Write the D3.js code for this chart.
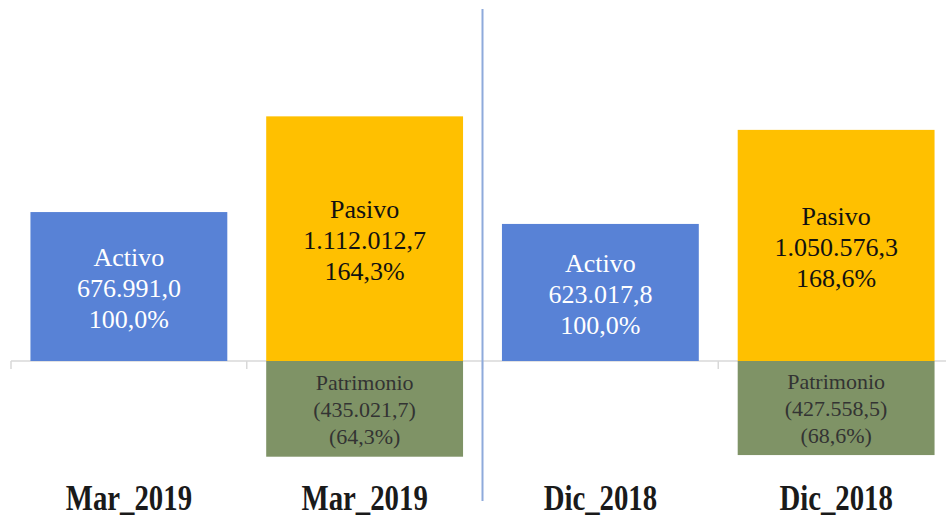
<!DOCTYPE html>
<html>
<head>
  <meta charset="utf-8">
  <style>
    body { margin: 0; background: #fff; }
  </style>
</head>
<body>
  <svg id="main" width="946" height="517"></svg>
  <script src="https://cdn.jsdelivr.net/npm/d3@7/dist/d3.min.js"></script>
  <script>
    const categories = ['Mar_2019', 'Mar_2019', 'Dic_2018', 'Dic_2018']
    const posNames = ['Activo', 'Pasivo', 'Activo', 'Pasivo']
    const posValues = [676991.0, 1112012.7, 623017.8, 1050576.3]
    const posPct = [100.0, 164.3, 100.0, 168.6]
    const negNames = [null, 'Patrimonio', null, 'Patrimonio']
    const negValues = [null, -435021.7, null, -427558.5]
    const negPct = [null, -64.3, null, -68.6]

    const serif = 'Liberation Serif'
    const colors = { Activo: '#5882d6', Pasivo: '#ffc000', Patrimonio: '#7f9366' }
    const textColors = { Activo: '#ffffff', Pasivo: '#111111', Patrimonio: '#333333' }

    const svg = d3.select('#main')
    const idx = d3.range(categories.length)

    const es = d3.formatLocale({ decimal: ',', thousands: '.', grouping: [3], currency: ['', ''] })
    const fmtNum = es.format(',.1f')
    const fmtPct = es.format('.1f')
    const paren = (s, neg) => neg ? `(${s})` : s

    const x = d3.scaleBand()
      .domain(idx)
      .range([11, 954])
      .paddingInner(0.165)
      .paddingOuter(0.0825)

    const y = d3.scaleLinear()
      .domain([-600000, 1400000])
      .range([493, 53])

    // axis line with ticks at band boundaries
    const step = x.step()
    const x0 = x.range()[0]
    const axis = svg.append('g')
    axis.append('line')
      .attr('x1', x0).attr('x2', 946)
      .attr('y1', y(0)).attr('y2', y(0))
      .attr('stroke', '#d9d9d9').attr('stroke-width', 1.5)
    axis.selectAll('.tk').data(d3.range(categories.length + 1))
      .join('line')
      .attr('x1', d => x0 + d * step).attr('x2', d => x0 + d * step)
      .attr('y1', y(0)).attr('y2', y(0) + 8)
      .attr('stroke', '#d9d9d9').attr('stroke-width', 1.5)

    function drawBars(names, values, pcts, fontSize, lh, shift) {
      const rows = idx.filter(i => values[i] != null)
      const g = svg.append('g')
      g.selectAll('rect').data(rows).join('rect')
        .attr('x', i => x(i))
        .attr('width', x.bandwidth())
        .attr('y', i => y(Math.max(0, values[i])))
        .attr('height', i => Math.abs(y(values[i]) - y(0)))
        .attr('fill', i => colors[names[i]])

      const lbl = g.selectAll('text').data(rows).join('text')
        .attr('text-anchor', 'middle')
        .attr('font-family', serif)
        .attr('font-size', fontSize)
        .attr('fill', i => textColors[names[i]])
        .attr('transform', i => {
          const cy = (y(values[i]) + y(0)) / 2
          return `translate(${x(i) + x.bandwidth() / 2},${cy + fontSize * 0.35 + shift})`
        })
      lbl.append('tspan').attr('x', 0).attr('y', -lh)
        .text(i => names[i])
      lbl.append('tspan').attr('x', 0).attr('y', 0)
        .text(i => paren(fmtNum(Math.abs(values[i])), values[i] < 0))
      lbl.append('tspan').attr('x', 0).attr('y', lh)
        .text(i => paren(fmtPct(Math.abs(pcts[i])) + '%', pcts[i] < 0))
    }

    drawBars(posNames, posValues, posPct, 26, 31, 1)
    drawBars(negNames, negValues, negPct, 22, 27, 0)

    // separator between periods
    svg.append('line')
      .attr('x1', x0 + 2 * step).attr('x2', x0 + 2 * step)
      .attr('y1', 9).attr('y2', 501)
      .attr('stroke', '#8eaadb').attr('stroke-width', 2)

    // category labels
    svg.append('g').selectAll('text').data(idx).join('text')
      .attr('transform', i => `translate(${x(i) + x.bandwidth() / 2},510) scale(0.8,1)`)
      .attr('text-anchor', 'middle')
      .attr('font-family', serif)
      .attr('font-size', 36)
      .attr('font-weight', 'bold')
      .attr('fill', '#1a1a1a')
      .text(i => categories[i])
  </script>
</body>
</html>
